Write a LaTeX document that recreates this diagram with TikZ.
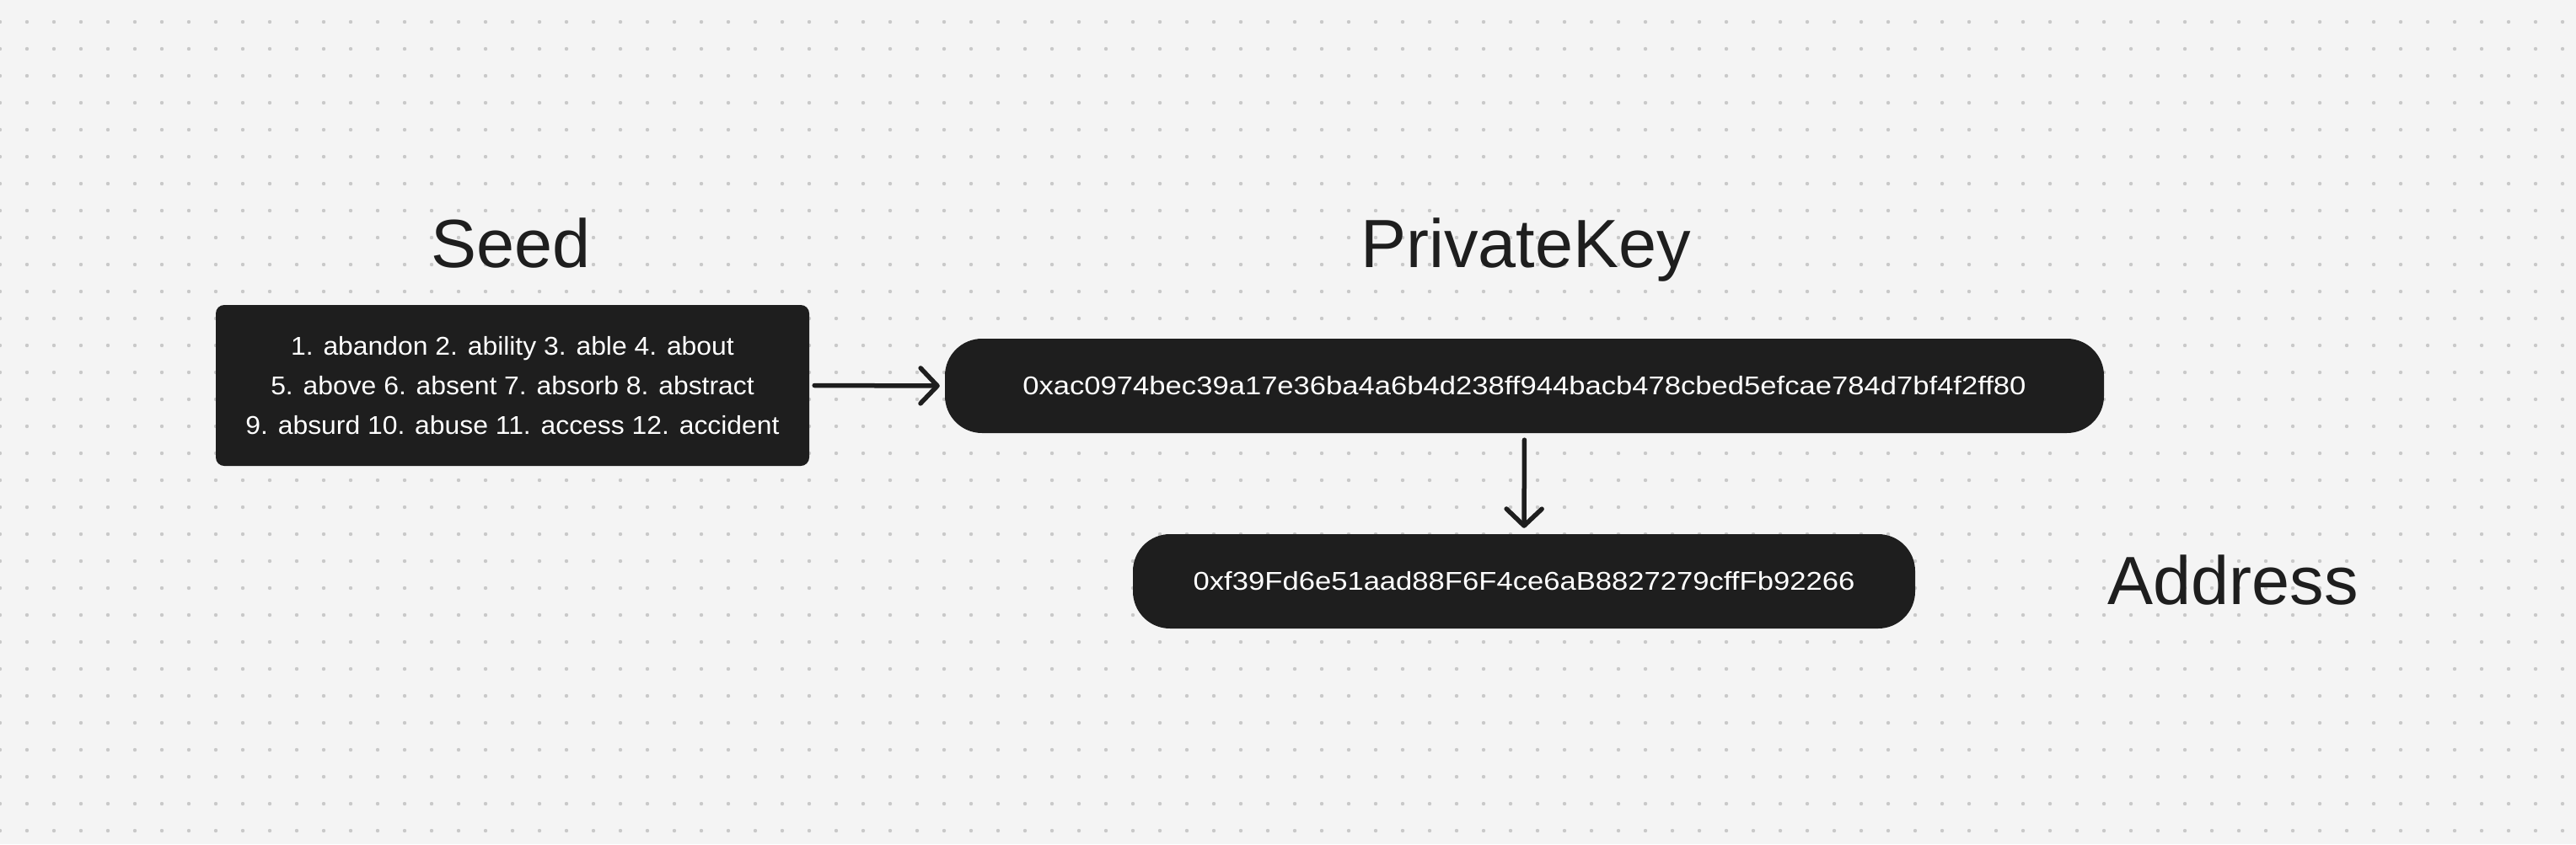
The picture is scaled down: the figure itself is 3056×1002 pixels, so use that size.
\documentclass[tikz,border=0pt]{standalone}
\usepackage{fontspec}
\setmainfont{Liberation Sans}
\newfontfamily\boxfont[FakeStretch=1.045]{Liberation Sans}
\newfontfamily\hexfont[FakeStretch=1.135]{Liberation Sans}
\usetikzlibrary{arrows.meta}
\definecolor{bg}{HTML}{F4F4F4}
\definecolor{dotc}{HTML}{C9C9C9}
\definecolor{ink}{HTML}{1E1E1E}
\begin{document}
\begin{tikzpicture}[x=1pt,y=-1pt,
  darkbox/.style={fill=ink, draw=none, text=white, inner sep=0pt, align=center,
    font=\boxfont\fontsize{30.5}{47}\selectfont},
  pill/.style={darkbox, rounded corners=44pt, minimum height=112pt,
    font=\hexfont\fontsize{30.5}{47}\selectfont},
  title/.style={text=ink, inner sep=0pt, anchor=base, font=\fontsize{81}{90}\selectfont},
  conn/.style={draw=ink, line width=5.5pt, line cap=round, line join=round,
    -{Straight Barb[length=20pt,width=42pt,round]}}]
\fill[bg] (0,0) rectangle (3056,1002);
\useasboundingbox (0,0) rectangle (3056,1002);
\foreach \i in {0,...,95}{
  \foreach \j in {0,...,30}{
    \fill[dotc] (32*\i, 26+32*\j) circle[radius=2.2];
  }
}
\node[darkbox, rounded corners=10pt, minimum width=704pt, minimum height=191pt] (seed) at (608,457.5)
  {1. abandon 2. ability 3. able 4. about\\5. above 6. absent 7. absorb 8. abstract\\9. absurd 10. abuse 11. access 12. accident};
\node[pill, minimum width=1375pt] (pk) at (1808.5,458)
  {0xac0974bec39a17e36ba4a6b4d238ff944bacb478cbed5efcae784d7bf4f2ff80};
\node[pill, minimum width=928pt] (addr) at (1808,690)
  {0xf39Fd6e51aad88F6F4ce6aB8827279cffFb92266};
\node[title] (seedt) at (606,317) {Seed};
\node[title] (pkt) at (1810,317) {PrivateKey};
\node[title] (addrt) at (2649,717) {Address};
\draw[conn, shorten <=6pt, shorten >=6pt] (seed.east) -- (pk.west);
\draw[conn, shorten <=8pt, shorten >=7pt] (pk.south) -- (addr.north);
\end{tikzpicture}
\end{document}
